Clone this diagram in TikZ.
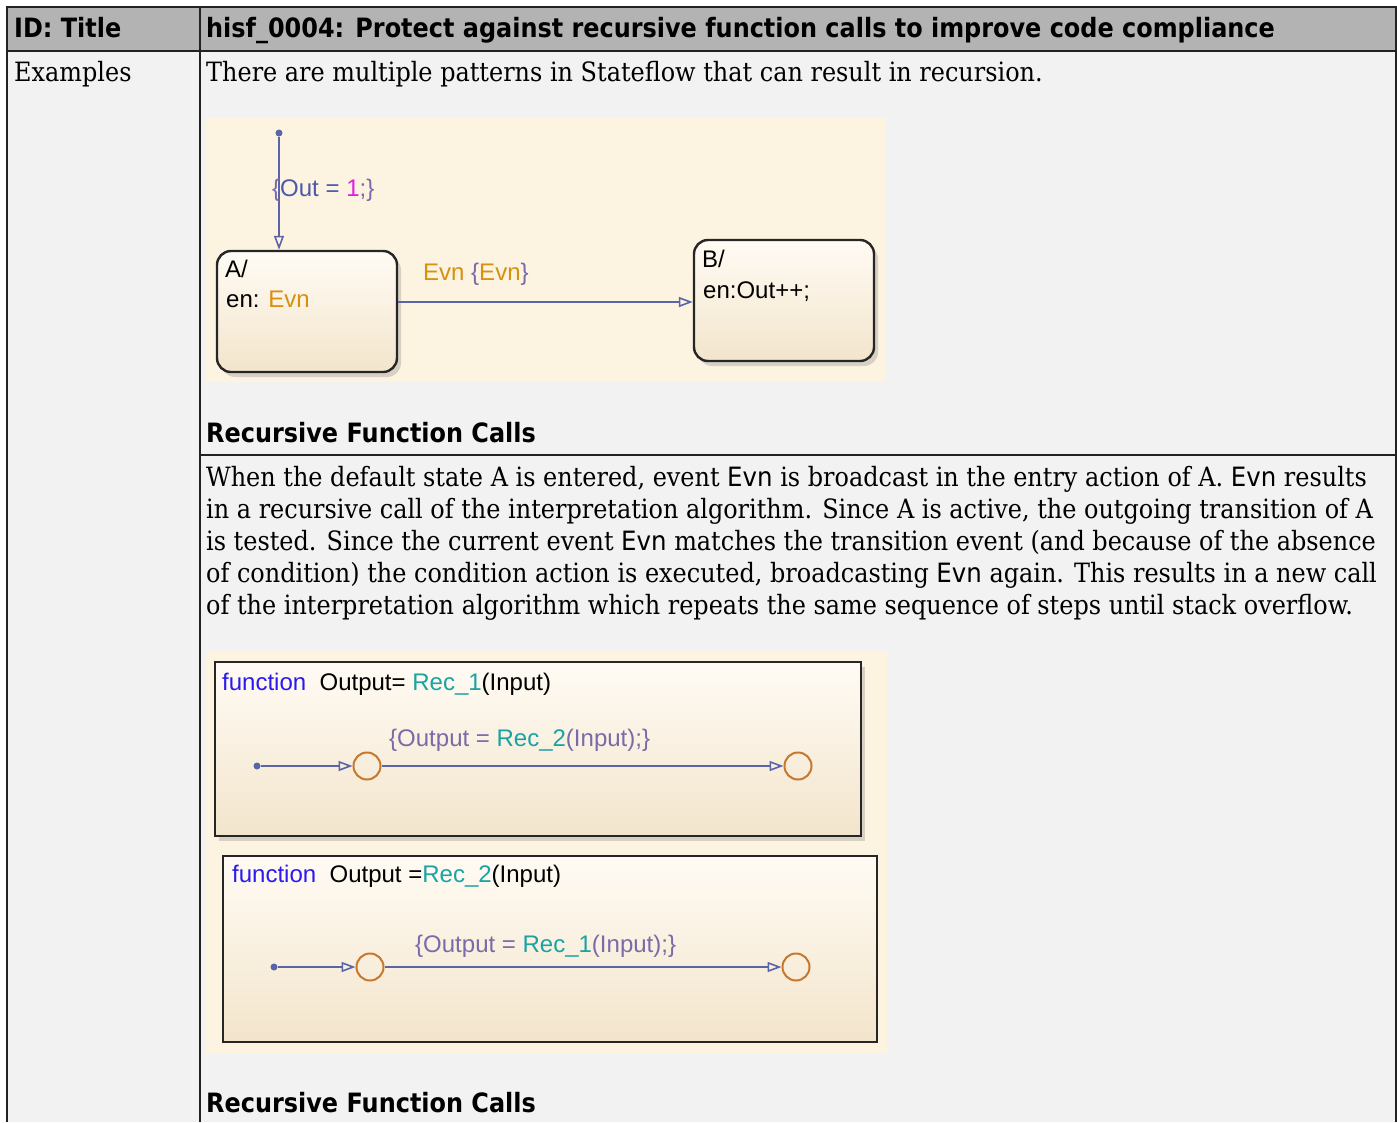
\documentclass[tikz,border=0pt]{standalone}
\usepackage{fontspec}
\usetikzlibrary{arrows.meta,shadows}
\setmainfont{DejaVu Serif}[FakeStretch=0.9]
\newfontfamily\hdfont{DejaVu Sans}[FakeStretch=0.9]
\newfontfamily\evnfont{DejaVu Sans}[FakeStretch=0.92]
\newfontfamily\dgfont{Liberation Sans}
\definecolor{hdrgray}{HTML}{B3B3B3}
\definecolor{bodybg}{HTML}{F2F2F2}
\definecolor{tblline}{HTML}{222222}
\definecolor{cream}{HTML}{FDF3E1}
\definecolor{sttop}{HTML}{FFFBF4}
\definecolor{stbot}{HTML}{F3E5CC}
\definecolor{trcol}{HTML}{5A64A8}
\definecolor{circcol}{HTML}{C8782D}
\definecolor{evncol}{HTML}{D9900F}
\definecolor{tealc}{HTML}{1AA3A3}
\definecolor{fnblue}{HTML}{2A1AF0}
\definecolor{bracec}{HTML}{7A6AA8}
\definecolor{magc}{HTML}{E01EE0}
\definecolor{outc}{HTML}{4A5AA8}
\newcommand{\evn}[1]{{\evnfont #1}}
\tikzset{
  tbl/.style={draw=tblline, line width=1.6pt},
  bodytxt/.style={anchor=base west, inner sep=0pt, font=\fontsize{26.6}{32}\selectfont},
  hdtxt/.style={anchor=base west, inner sep=0pt, font=\hdfont\bfseries\fontsize{26.6}{30}\selectfont},
  dgtxt/.style={anchor=base west, inner sep=0pt, font=\dgfont\fontsize{24}{28}\selectfont},
  statebox/.style={draw=black!85, line width=2.4pt, rounded corners=14pt, top color=sttop, bottom color=stbot,
     drop shadow={shadow xshift=4pt, shadow yshift=-5pt, opacity=0.3}, inner sep=0pt},
  fnbox/.style={draw=black!85, line width=2.4pt, top color=sttop, bottom color=stbot, inner sep=0pt},
  tr/.style={draw=trcol, line width=1.6pt, -{Triangle[open, length=14pt, width=10pt]}},
  dotn/.style={circle, fill=trcol, inner sep=0pt, minimum size=7pt},
  junc/.style={circle, draw=circcol, line width=2pt, inner sep=0pt, minimum size=27pt},
}
\begin{document}
\begin{tikzpicture}[x=1pt,y=-1pt]
\useasboundingbox (0,0) rectangle (1397,1122);
\fill[white] (0,0) rectangle (1397,1122);
\fill[bodybg] (7,51) rectangle (1396,1122);
\fill[hdrgray] (7,7) rectangle (1396,51);
\draw[tbl] (7,1122) -- (7,7) -- (1396,7) -- (1396,1122);
\draw[tbl] (7,51) -- (1396,51);
\draw[tbl] (200,7) -- (200,1122);
\draw[tbl] (200,455) -- (1396,455);

\node[hdtxt] (h1) at (14,37) {ID: Title};
\node[hdtxt] (h2) at (206,37) {hisf\_0004: Protect against recursive function calls to improve code compliance};
\node[bodytxt] (ex) at (14,81) {Examples};
\node[bodytxt] (intro) at (206,81) {There are multiple patterns in Stateflow that can result in recursion.};

% diagram 1
\fill[cream] (205,118) rectangle (885,382);
\node[statebox, minimum width=180pt, minimum height=121pt] (A) at (307,311.5) {};
\node[statebox, minimum width=180pt, minimum height=121pt] (B) at (784,300.5) {};
\node[dgtxt] (Alab) at (225,277) {A/};
\node[dgtxt] (Aen) at (226,307) {en: \textcolor{evncol}{Evn}};
\node[dgtxt] (Blab) at (702,267) {B/};
\node[dgtxt] (Ben) at (703,298) {en:Out++;};
\node[dotn] (d0) at (279,133) {};
\draw[tr] (d0) -- (d0 |- A.north);
\node[dgtxt] (l0) at (272,196) {\textcolor{bracec}{\{}\textcolor{outc}{Out = }\textcolor{magc}{1}\textcolor{bracec}{;\}}};
\draw[tr] (A.east |- 0,302) -- (B.west |- 0,302);
\node[dgtxt] (l1) at (423,280) {\textcolor{evncol}{Evn} \textcolor{bracec}{\{}\textcolor{evncol}{Evn}\textcolor{bracec}{\}}};

\node[hdtxt] (rfc1) at (206,442) {Recursive Function Calls};

\node[bodytxt] (p1) at (206,486) {When the default state A is entered, event \evn{Evn} is broadcast in the entry action of A. \evn{Evn} results};
\node[bodytxt] (p2) at (206,518) {in a recursive call of the interpretation algorithm. Since A is active, the outgoing transition of A};
\node[bodytxt] (p3) at (206,550) {is tested. Since the current event \evn{Evn} matches the transition event (and because of the absence};
\node[bodytxt] (p4) at (206,582) {of condition) the condition action is executed, broadcasting \evn{Evn} again. This results in a new call};
\node[bodytxt] (p5) at (206,614) {of the interpretation algorithm which repeats the same sequence of steps until stack overflow.};

% diagram 2
\fill[cream] (205,651) rectangle (887,1053);
\node[fnbox, minimum width=646pt, minimum height=174pt,
  drop shadow={shadow xshift=4pt, shadow yshift=-5pt, opacity=0.3}] (F1) at (538,749) {};
\node[dgtxt] (f1t) at (222,690) {\textcolor{fnblue}{function}\ \ Output= \textcolor{tealc}{Rec\_1}(Input)};
\node[dotn] (s1) at (257,766) {};
\node[junc] (c1) at (367,766) {};
\node[junc] (c2) at (798,766) {};
\draw[tr] (s1) -- (c1);
\draw[tr] (c1) -- (c2);
\node[dgtxt] (t1) at (389,746) {\textcolor{bracec}{\{Output = }\textcolor{tealc}{Rec\_2}\textcolor{bracec}{(Input);\}}};

\node[fnbox, minimum width=654pt, minimum height=186pt] (F2) at (550,949) {};
\node[dgtxt] (f2t) at (232,882) {\textcolor{fnblue}{function}\ \ Output =\textcolor{tealc}{Rec\_2}(Input)};
\node[dotn] (s2) at (274,967) {};
\node[junc] (c3) at (370,967) {};
\node[junc] (c4) at (796,967) {};
\draw[tr] (s2) -- (c3);
\draw[tr] (c3) -- (c4);
\node[dgtxt] (t2) at (415,952) {\textcolor{bracec}{\{Output = }\textcolor{tealc}{Rec\_1}\textcolor{bracec}{(Input);\}}};

\node[hdtxt] (rfc2) at (206,1112) {Recursive Function Calls};
\end{tikzpicture}
\end{document}
